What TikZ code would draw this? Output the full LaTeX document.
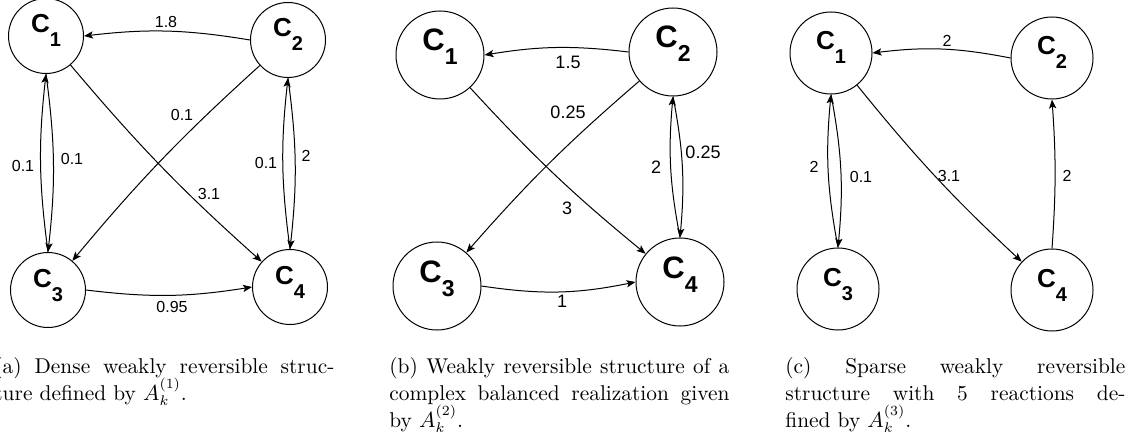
\documentclass[tikz,border=0pt]{standalone}
\usepackage{amsmath}
\usepackage{fontspec}
\setsansfont{Liberation Sans}
\usetikzlibrary{arrows.meta}

\tikzset{
  cplx/.style={draw, circle, line width=0.5pt, inner sep=0pt, font=\sffamily\bfseries, text height=4pt, text depth=7pt},
  rate/.style={font=\sffamily\fontsize{8}{8}\selectfont, inner sep=0pt},
  react/.style={-{Stealth[length=4.5pt,width=3.6pt,inset=1pt]}, line width=0.5pt},
  capt/.style={anchor=base west, inner sep=0pt, align=justify, text width=170pt, font=\fontsize{10.7}{13.5}\selectfont}
}
\newcommand{\cpx}[3]{\fontsize{#1}{#1}\selectfont C\raisebox{-7pt}{\fontsize{#2}{#2}\selectfont #3}}

\begin{document}
\begin{tikzpicture}[x=0.5pt, y=-0.5pt]
\useasboundingbox (0,0) rectangle (1128,438);

% (a) dense structure
\node[cplx, minimum size=37.5pt] (a1) at (46,36) {\cpx{13}{10}{1}};
\node[cplx, minimum size=37.5pt] (a2) at (288,40) {\cpx{13}{10}{2}};
\node[cplx, minimum size=37.5pt] (a3) at (48,290) {\cpx{13}{10}{3}};
\node[cplx, minimum size=37.5pt] (a4) at (290,287) {\cpx{13}{10}{4}};

\draw[react] (a2.west) to[bend right=8] (a1.east);
\draw[react] (a1.south) to[bend left=7] (a3.north);
\draw[react] (a3.north) to[bend left=7] (a1.south);
\draw[react] (a1) to[bend right=4] (a4);
\draw[react] (a2) to[bend right=4] (a3);
\draw[react] (a2.south) to[bend left=7] (a4.north);
\draw[react] (a4.north) to[bend left=7] (a2.south);
\draw[react] (a3.east) to[bend right=8] (a4.west);

\node[rate] (ka21) at (166,22) {1.8};
\node[rate] (ka13) at (23,166) {0.1};
\node[rate] (ka31) at (72,159) {0.1};
\node[rate] (ka23) at (182,115) {0.1};
\node[rate] (ka14) at (209,194) {3.1};
\node[rate] (ka42) at (266,163) {0.1};
\node[rate] (ka24) at (306,156) {2};
\node[rate] (ka34) at (172,307) {0.95};

% (b) complex balanced realization
\node[cplx, minimum size=44pt, text depth=8pt] (b1) at (440,55) {\cpx{15.5}{11.5}{1}};
\node[cplx, minimum size=44pt, text depth=8pt] (b2) at (673,52) {\cpx{15.5}{11.5}{2}};
\node[cplx, minimum size=44pt, text depth=8pt] (b3) at (437,286) {\cpx{15.5}{11.5}{3}};
\node[cplx, minimum size=44pt, text depth=8pt] (b4) at (680,282) {\cpx{15.5}{11.5}{4}};

\draw[react] (b2.west) to[bend right=8] (b1.east);
\draw[react] (b1) to[bend right=4] (b4);
\draw[react] (b2) to[bend right=4] (b3);
\draw[react] (b2.south) to[bend left=8] (b4.north);
\draw[react] (b4.north) to[bend left=8] (b2.south);
\draw[react] (b3.east) to[bend right=10] (b4.west);

\node[rate, font=\sffamily\fontsize{9}{9}\selectfont] (kb21) at (568,62) {1.5};
\node[rate, font=\sffamily\fontsize{9}{9}\selectfont] (kb23) at (568,112) {0.25};
\node[rate, font=\sffamily\fontsize{9}{9}\selectfont] (kb14) at (567,208) {3};
\node[rate, font=\sffamily\fontsize{9}{9}\selectfont] (kb42) at (656,167) {2};
\node[rate, font=\sffamily\fontsize{9}{9}\selectfont] (kb24) at (703,152) {0.25};
\node[rate, font=\sffamily\fontsize{9}{9}\selectfont] (kb34) at (562,301) {1};

% (c) sparse structure
\node[cplx, minimum size=41pt] (c1) at (831,53) {\cpx{13}{10}{1}};
\node[cplx, minimum size=41pt] (c2) at (1052,58) {\cpx{13}{10}{2}};
\node[cplx, minimum size=41pt] (c3) at (838,289) {\cpx{13}{10}{3}};
\node[cplx, minimum size=41pt] (c4) at (1052,290) {\cpx{13}{10}{4}};

\draw[react] (c2.west) to[bend right=9] (c1.east);
\draw[react] (c1.south) to[bend left=8] (c3.north);
\draw[react] (c3.north) to[bend left=8] (c1.south);
\draw[react] (c1) to[bend right=4] (c4);
\draw[react] (c4.north) to[bend right=4] (c2.south);

\node[rate] (kc21) at (947,41) {2};
\node[rate] (kc31) at (814,167) {2};
\node[rate] (kc13) at (861,177) {0.1};
\node[rate] (kc14) at (949,176) {3.1};
\node[rate] (kc42) at (1067,176) {2};

% captions
\node[capt] (capa) at (-6,373) {(a) Dense weakly reversible struc-\linebreak ture defined by $A_k^{(1)}$.};
\node[capt] (capb) at (389,373) {(b) Weakly reversible structure of a\linebreak complex balanced realization given\linebreak by $A_k^{(2)}$.};
\node[capt] (capc) at (785,373) {(c) Sparse weakly reversible\linebreak structure with 5 reactions de-\linebreak fined by $A_k^{(3)}$.};
\end{tikzpicture}
\end{document}
